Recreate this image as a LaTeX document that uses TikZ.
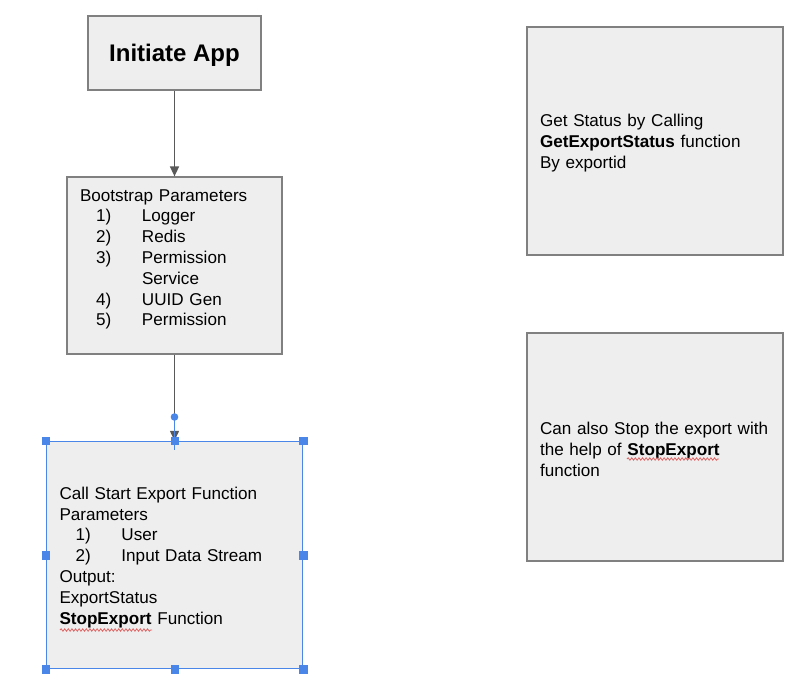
\documentclass[tikz,border=0pt]{standalone}
\usepackage{fontspec}
\setmainfont{Liberation Sans}
\usetikzlibrary{arrows.meta,decorations.pathmorphing}
\definecolor{boxfill}{HTML}{EEEEEE}
\definecolor{boxline}{HTML}{808080}
\definecolor{arrowgray}{HTML}{595959}
\definecolor{selblue}{HTML}{4A86E8}
\definecolor{spellred}{HTML}{E06666}
\newcommand\numitem[2]{\hspace*{16pt}\makebox[46pt][l]{#1}#2}
\newcommand\topgap{\rule{0pt}{17pt}}
\tikzset{
  card/.style={draw=boxline, fill=boxfill, line width=1.2pt, inner xsep=13pt, inner ysep=0pt,
    align=left, font=\fontsize{17.1}{20.8}\selectfont, text=black},
  flow/.style={draw=arrowgray, line width=1.5pt, -{Triangle[length=10pt,width=9pt]}},
  handle/.style={fill=selblue, draw=selblue, minimum size=7.5pt, inner sep=0pt},
  spell/.style={draw=spellred, line width=0.8pt, decorate,
    decoration={snake, amplitude=1.2pt, segment length=3.6pt}}
}
\begin{document}
\begin{tikzpicture}[x=1pt,y=-1pt]
\useasboundingbox[fill=white] (0,0) rectangle (805,684);

\node[card, align=center, inner xsep=0pt, minimum width=173pt, minimum height=74pt,
  font=\fontsize{24}{28}\selectfont\bfseries] (init) at (174.5,53) {\rule{0pt}{22pt}Initiate App};

\node[card, text width=189pt, minimum height=177pt] (boot) at (174.5,265.5)
 {\topgap Bootstrap Parameters\\
  \numitem{1)}{Logger}\\
  \numitem{2)}{Redis}\\
  \numitem{3)}{Permission}\\
  \hspace*{62pt}Service\\
  \numitem{4)}{UUID Gen}\\
  \numitem{5)}{Permission}\\
  \mbox{}};

\node[card, draw=selblue, line width=1.5pt, text width=230pt, minimum height=227pt] (call) at (174.5,555)
 {\topgap Call Start Export Function\\
  Parameters\\
  \numitem{1)}{User}\\
  \numitem{2)}{Input Data Stream}\\
  Output:\\
  ExportStatus\\
  \textbf{StopExport} Function};

\node[card, text width=230pt, minimum height=228pt] (status) at (655,141)
 {\topgap Get Status by Calling\\
  \textbf{GetExportStatus} function\\
  By exportid};

\node[card, text width=230pt, minimum height=228pt] (stop) at (655,447)
 {\topgap Can also Stop the export with\\
  the help of \textbf{StopExport}\\
  function};

\draw[flow] (init.south) -- (boot.north);
\coordinate (dot) at (174.5,417);
\draw[flow] (boot.south) -- (call.north);
\draw[selblue, line width=1.4pt] (dot) -- ([yshift=-9pt]call.north);
\fill[selblue] (dot) circle (3.8pt);

\foreach \a in {north west,north,north east,west,east,south west,south,south east}
  \node[handle] at (call.\a) {};

\draw[spell] (60,630) -- (152,630);
\draw[spell] (627,459) -- (719,459);
\end{tikzpicture}
\end{document}
